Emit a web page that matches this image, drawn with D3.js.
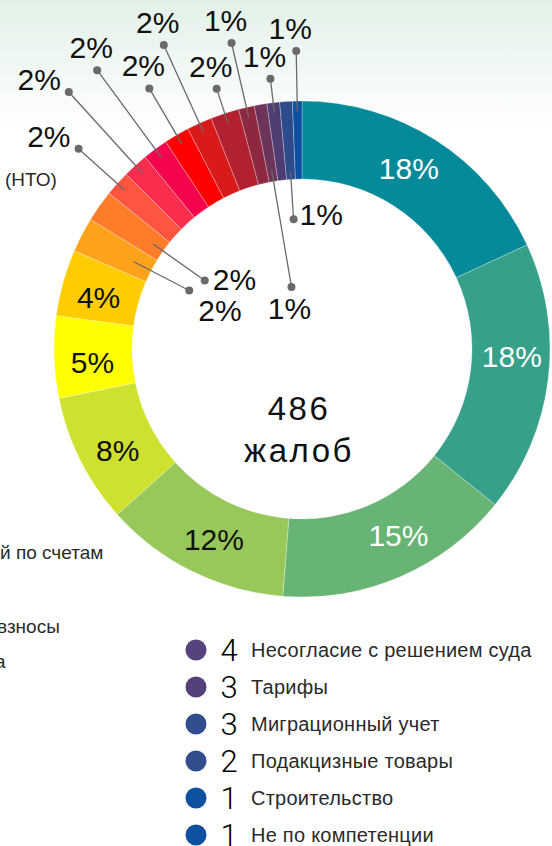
<!doctype html>
<html lang="ru">
<head>
  <meta charset="utf-8">
  <title>486 жалоб</title>
  <script src="https://d3js.org/d3.v7.min.js"></script>
  <style>
    body { margin: 0; background: #fff; }
    svg { display: block; }
  </style>
</head>
<body>
  <div id="chart"></div>
  <script type="text/javascript">
	// complaints per category, clockwise from 12 o'clock
	var sliceValues = [88, 86, 75, 59, 41, 26, 21, 11, 10, 8, 8, 8, 8, 8, 9, 5, 4, 4, 4, 3];
	var sliceColors = ["#058a9a", "#37a08a", "#67b474", "#98c85a", "#cde12e", "#ffff00", "#ffcc00",
	                   "#ffa21b", "#ff7c2b", "#ff5540", "#fa2d4c", "#f5044e", "#ff0000", "#d91a1b",
	                   "#b3202f", "#8e2841", "#6c3459", "#4e3c73", "#2d4a8a", "#0c51a2"];
	var totalLabel = ["486", "жалоб"];

	// legend (bottom right)
	var legendCounts = [4, 3, 3, 2, 1, 1];
	var legendNames = ["Несогласие с решением суда", "Тарифы", "Миграционный учет",
	                   "Подакцизные товары", "Строительство", "Не по компетенции"];
	var legendColors = ["#56437d", "#54417b", "#324d8d", "#324d8d", "#0f51a1", "#0f51a1"];

	// the left legend is cut by the frame, only its ends show
	var cutLegend = [
		{text: "(НТО)", x: 5, y: 186},
		{text: "й по счетам", x: 0, y: 559},
		{text: "взносы", x: -3, y: 633},
		{text: "а", x: -5, y: 668}
	];

	var width = 552, height = 846;
	var cx = 302, cy = 349, rOuter = 248, rInner = 170;

	// the designer nudged the big labels a little counter-clockwise (degrees)
	var inNudge = [-2, -5, -4, -1.5, -2, -1.7, -1.2];

	// how the small slices get their leader lines: where the dot sits and where the text goes
	var leaders = {
		7:  {dotR: 127, lineR: 190, place: "belowRight"},
		8:  {dotR: 119, lineR: 182, place: "right"},
		9:  {dotR: 300, lineR: 238, place: "left"},
		10: {dotR: 347, lineR: 238, place: "left"},
		11: {dotR: 346, lineR: 238, place: "above"},
		12: {dotR: 302, lineR: 238, place: "above"},
		13: {dotR: 334, lineR: 238, place: "above"},
		14: {dotR: 274, lineR: 238, place: "above"},
		15: {dotR: 314, lineR: 238, place: "above"},
		16: {dotR: 63,  lineR: 182, place: "below"},
		17: {dotR: 272, lineR: 238, place: "above"},
		18: {dotR: 130, lineR: 178, place: "rightUp"},
		19: {dotR: 298, lineR: 238, place: "above"}
	};

	var total = d3.sum(sliceValues);
	var pct = function(v) { return Math.round(v / total * 100) + "%"; };

	var svg = d3.select("#chart")
				.append("svg")
				.attr("width", width)
				.attr("height", height);

	// pale mint wash at the top of the page
	var grad = svg.append("defs").append("linearGradient")
				.attr("id", "wash")
				.attr("x1", 0).attr("y1", 0).attr("x2", 0).attr("y2", 1);
	grad.append("stop").attr("offset", "0%").attr("stop-color", "#e2f1e8");
	grad.append("stop").attr("offset", "100%").attr("stop-color", "#ffffff");
	svg.append("rect")
		.attr("width", width)
		.attr("height", 130)
		.attr("fill", "url(#wash)");

	var pie = d3.pie().sort(null).value(function(d) { return d; });
	var arcs = pie(sliceValues);

	var arc = d3.arc().innerRadius(rInner).outerRadius(rOuter);

	var g = svg.append("g").attr("transform", "translate(" + cx + "," + cy + ")");

	g.selectAll(".slice")
		.data(arcs)
		.enter()
		.append("path")
		.attr("class", "slice")
		.attr("d", arc)
		.attr("fill", function(d, i) { return sliceColors[i]; })
		.attr("stroke", "rgba(255,255,255,0.45)")
		.attr("stroke-width", 0.6);

	var polar = function(a, r) { return [r * Math.sin(a), -r * Math.cos(a)]; };
	var midA = function(d) { return (d.startAngle + d.endAngle) / 2; };

	// big slices carry their own label
	g.selectAll(".inlabel")
		.data(arcs.slice(0, 7))
		.enter()
		.append("text")
		.attr("class", "inlabel")
		.attr("transform", function(d, i) {
			return "translate(" + polar(midA(d) + inNudge[i] * Math.PI / 180, 210) + ")";
		})
		.attr("text-anchor", "middle")
		.attr("dy", "0.36em")
		.style("font-family", "Liberation Sans, Arial, sans-serif")
		.style("font-size", "30px")
		.style("fill", function(d, i) { return i < 3 ? "#ffffff" : "#111111"; })
		.text(function(d) { return pct(d.value); });

	// small slices: radial leader line, dot, label
	var small = arcs.filter(function(d, i) { return leaders[i]; });
	var lg = g.selectAll(".leader")
		.data(small)
		.enter()
		.append("g")
		.attr("class", "leader");

	lg.append("line")
		.attr("x1", function(d) { return polar(midA(d), leaders[d.index].lineR)[0]; })
		.attr("y1", function(d) { return polar(midA(d), leaders[d.index].lineR)[1]; })
		.attr("x2", function(d) { return polar(midA(d), leaders[d.index].dotR)[0]; })
		.attr("y2", function(d) { return polar(midA(d), leaders[d.index].dotR)[1]; })
		.attr("stroke", "#6a6a6a")
		.attr("stroke-width", 1.3);

	lg.append("circle")
		.attr("cx", function(d) { return polar(midA(d), leaders[d.index].dotR)[0]; })
		.attr("cy", function(d) { return polar(midA(d), leaders[d.index].dotR)[1]; })
		.attr("r", 4)
		.attr("fill", "#6a6a6a");

	lg.append("text")
		.each(function(d) {
			var p = polar(midA(d), leaders[d.index].dotR);
			var place = leaders[d.index].place;
			var t = d3.select(this);
			if (place == "left") {
				t.attr("x", p[0] - 8).attr("y", p[1] - 2).attr("text-anchor", "end");
			} else if (place == "above") {
				t.attr("x", p[0] - 6).attr("y", p[1] - 12).attr("text-anchor", "middle");
			} else if (place == "right") {
				t.attr("x", p[0] + 8).attr("y", p[1] + 10).attr("text-anchor", "start");
			} else if (place == "rightUp") {
				t.attr("x", p[0] + 6).attr("y", p[1] + 6).attr("text-anchor", "start");
			} else if (place == "belowRight") {
				t.attr("x", p[0] + 9).attr("y", p[1] + 30).attr("text-anchor", "start");
			} else {
				t.attr("x", p[0] - 2).attr("y", p[1] + 32).attr("text-anchor", "middle");
			}
		})
		.style("font-family", "Liberation Sans, Arial, sans-serif")
		.style("font-size", "30px")
		.style("fill", "#111111")
		.text(function(d) { return pct(d.value); });

	// total in the hole
	svg.selectAll(".total")
		.data(totalLabel)
		.enter()
		.append("text")
		.attr("class", "total")
		.attr("x", 299)
		.attr("y", function(d, i) { return 420 + i * 42; })
		.attr("text-anchor", "middle")
		.style("font-family", "Liberation Sans, Arial, sans-serif")
		.style("font-size", "33px")
		.style("letter-spacing", "2.5px")
		.style("fill", "#111111")
		.text(function(d) { return d; });

	// legend rows
	var rows = svg.selectAll(".row")
		.data(legendNames)
		.enter()
		.append("g")
		.attr("class", "row")
		.attr("transform", function(d, i) { return "translate(0," + (650 + i * 37) + ")"; });

	rows.append("circle")
		.attr("cx", 196)
		.attr("cy", 0)
		.attr("r", 10.5)
		.attr("fill", function(d, i) { return legendColors[i]; });

	rows.append("text")
		.attr("x", 229)
		.attr("y", 10.5)
		.attr("text-anchor", "middle")
		.style("font-family", "Roboto, sans-serif")
		.style("font-weight", "300")
		.style("font-size", "31px")
		.style("fill", "#000000")
		.text(function(d, i) { return legendCounts[i]; });

	rows.append("text")
		.attr("x", 251)
		.attr("y", 7)
		.style("font-family", "Liberation Sans, Arial, sans-serif")
		.style("font-size", "20px")
		.style("letter-spacing", "0.25px")
		.style("fill", "#2a2a2a")
		.text(function(d) { return d; });

	svg.selectAll(".cut")
		.data(cutLegend)
		.enter()
		.append("text")
		.attr("class", "cut")
		.attr("x", function(d) { return d.x; })
		.attr("y", function(d) { return d.y; })
		.style("font-family", "Liberation Sans, Arial, sans-serif")
		.style("font-size", "19px")
		.style("fill", "#2a2a2a")
		.text(function(d) { return d.text; });
  </script>
</body>
</html>
